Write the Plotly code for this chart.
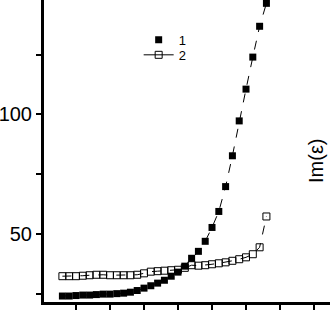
import plotly.graph_objects as go

# x positions (arbitrary units; tick marks at integers, labels cut off in the reference)
x_vals = [0.6 + 0.2 * i for i in range(31)]

series1 = [24.0, 24.0, 24.2, 24.4, 24.4, 24.6, 24.8, 24.8, 25.0, 25.2,
           25.6, 26.3, 27.3, 28.3, 29.4, 30.6, 32.3, 34.0, 36.5, 39.8,
           42.7, 46.9, 52.7, 59.4, 69.8, 82.7, 97.3, 110.6, 124.0, 136.9, 146.5]

series2 = [32.3, 32.3, 32.3, 32.5, 32.7, 32.9, 32.9, 32.7, 32.7, 32.7,
           32.7, 32.9, 33.5, 34.2, 34.4, 34.6, 34.8, 35.0, 35.8, 36.9,
           36.7, 36.9, 37.3, 37.7, 38.1, 38.75, 39.4, 40.2, 41.5, 44.4, 57.3]

y_tickvals = [25, 50, 75, 100, 125]
y_ticktext = ["", "50", "", "100", ""]
x_tickvals = [1, 2, 3, 4, 5, 6, 7, 8]

series_names = ["1", "2"]
y_title = "Im(ε)"

FONT = "Liberation Sans, Arial, sans-serif"

fig = go.Figure()

# data traces
fig.add_trace(go.Scatter(
    x=x_vals, y=series1, mode="lines+markers", showlegend=False,
    line=dict(color="black", width=1, dash="dash"),
    marker=dict(symbol="square", size=7, color="black"),
    cliponaxis=False,
))
fig.add_trace(go.Scatter(
    x=x_vals, y=series2, mode="lines+markers", showlegend=False,
    line=dict(color="black", width=1, dash="dash"),
    marker=dict(symbol="square-open", size=7, color="black", line=dict(width=1)),
))

# legend entries
fig.add_trace(go.Scatter(
    x=[None], y=[None], mode="markers", name=series_names[0], legend="legend",
    marker=dict(symbol="square", size=7, color="black"),
))
fig.add_trace(go.Scatter(
    x=[None], y=[None], mode="lines+markers", name=series_names[1], legend="legend2",
    line=dict(color="black", width=1),
    marker=dict(symbol="square-open", size=7, color="black", line=dict(width=1)),
))

fig.update_layout(
    width=330, height=312,
    margin=dict(l=44, r=0, t=0, b=10),
    paper_bgcolor="white", plot_bgcolor="white",
    font=dict(family=FONT, color="black", size=20),
    legend=dict(x=0.331, y=0.918, xanchor="left", yanchor="top",
                bgcolor="rgba(0,0,0,0)", font=dict(size=13, family=FONT, color="black"),
                itemwidth=30, tracegroupgap=0),
    legend2=dict(x=0.331, y=0.868, xanchor="left", yanchor="top",
                 bgcolor="rgba(0,0,0,0)", font=dict(size=13, family=FONT, color="black"),
                 itemwidth=30, tracegroupgap=0),
    annotations=[dict(
        text=y_title, xref="paper", yref="paper", x=0.951, y=0.467,
        showarrow=False, textangle=-90, font=dict(size=20, family=FONT),
        xanchor="center", yanchor="middle",
    )],
)

fig.update_xaxes(
    range=[2 / 34, 8.47], showgrid=False, zeroline=False,
    showline=True, linecolor="black", linewidth=3,
    tickvals=x_tickvals, ticktext=[""] * len(x_tickvals),
    ticks="outside", ticklen=5, tickwidth=2, tickcolor="black",
)
fig.update_yaxes(
    range=[21.5, 147.9], showgrid=False, zeroline=False,
    showline=True, linecolor="black", linewidth=3,
    tickvals=y_tickvals, ticktext=y_ticktext,
    ticks="outside", ticklen=5, tickwidth=2, tickcolor="black",
    tickfont=dict(size=20, family=FONT),
)

fig.write_html(
    "out.html",
    config={"displayModeBar": False},
    post_script="document.body.style.margin='0';document.body.style.overflow='hidden';",
)
